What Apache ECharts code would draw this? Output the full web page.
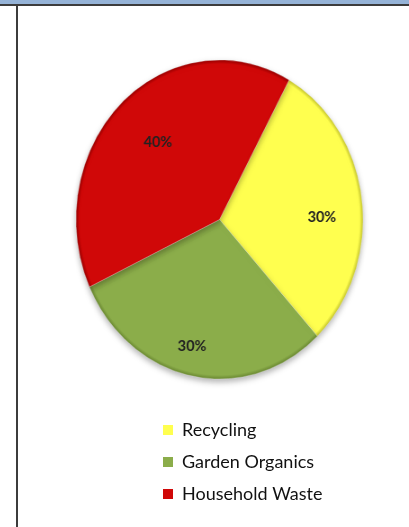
<!DOCTYPE html>
<html><head><meta charset="utf-8">
<script src="https://cdn.jsdelivr.net/npm/echarts@6/dist/echarts.min.js"></script>
<style>
html,body{margin:0;padding:0;background:#fff;width:409px;height:527px;overflow:hidden}
#frame,#pie{position:absolute;left:0;top:0;width:409px;height:527px}
#pie{transform:scaleX(0.9);transform-origin:219.5px 219.5px}
</style></head><body>
<div id="frame"></div><div id="pie"></div>
<script>
// ---- data ----
const categories = ['Recycling', 'Garden Organics', 'Household Waste'];
const shares = [30, 30, 40];
const colors = ['#FFFF4F', '#8BAD4A', '#D00808'];
const edgeColors = ['#C4C42C', '#6A8832', '#980000'];

// ---- label placement (style) ----
const labelRatio = [0.714, 0.815, 0.648];
const labelAngleShift = [5.7, 2.6, 1.6];

// ---- geometry ----
const CX = 219.5, CY = 219.5, R = 159.5;

function grad(i) {
  return {
    type: 'radial', x: CX, y: CY, r: R, global: true,
    colorStops: [
      { offset: 0, color: colors[i] },
      { offset: 0.93, color: colors[i] },
      { offset: 0.975, color: colors[i] },
      { offset: 1, color: edgeColors[i] }
    ]
  };
}

const pieData = categories.map((c, i) => ({ name: c, value: shares[i], itemStyle: { color: grad(i) } }));

// frame + legend chart
const fb = echarts.init(document.getElementById('frame'), null, { renderer: 'canvas' });
fb.setOption({
  backgroundColor: 'transparent',
  animation: false,
  color: colors,
  graphic: [
    { type: 'rect', shape: { x: 0, y: 0, width: 409, height: 4 }, style: { fill: '#95B3D7' } },
    { type: 'rect', shape: { x: 0, y: 4, width: 409, height: 2 }, style: { fill: '#3C3C3C' } },
    { type: 'rect', shape: { x: 16, y: 4, width: 2, height: 523 }, style: { fill: '#3C3C3C' } }
  ],
  legend: {
    orient: 'vertical', left: 158, top: 416,
    itemWidth: 10, itemHeight: 10, itemGap: 14, icon: 'rect',
    selectedMode: false,
    textStyle: { fontFamily: 'Lato', fontSize: 18, color: '#111', padding: [0, 0, 0, 4] },
    data: categories
  },
  series: [{
    type: 'pie', radius: 0, center: [-100, -100], silent: true,
    label: { show: false }, labelLine: { show: false },
    data: categories.map((c, i) => ({ name: c, value: shares[i] }))
  }]
});

// pie chart (horizontally squeezed by CSS to reproduce the elliptical look)
const ch = echarts.init(document.getElementById('pie'), null, { renderer: 'canvas' });
ch.setOption({
  backgroundColor: 'transparent',
  animation: false,
  series: [{
    type: 'pie',
    center: [CX, CY],
    radius: R,
    startAngle: 61,
    clockwise: true,
    avoidLabelOverlap: false,
    silent: true,
    itemStyle: {
      borderColor: 'rgba(255,255,255,0.25)', borderWidth: 1,
      shadowBlur: 6, shadowOffsetY: 3, shadowColor: 'rgba(0,0,0,0.3)'
    },
    label: {
      show: true, position: 'inside', formatter: '{d}%',
      fontFamily: 'Lato', fontSize: 16, fontWeight: 'bold', color: '#222'
    },
    labelLine: { show: false },
    labelLayout: function (p) {
      const r = p.labelRect;
      const lx = r.x + r.width / 2, ly = r.y + r.height / 2;
      const a = Math.atan2(lx - CX, -(ly - CY)) + labelAngleShift[p.dataIndex] * Math.PI / 180;
      const k = labelRatio[p.dataIndex] * R;
      const tx = CX + k * Math.sin(a), ty = CY - k * Math.cos(a);
      return { dx: tx - lx, dy: ty - ly };
    },
    data: pieData
  }]
});
</script>
</body></html>
